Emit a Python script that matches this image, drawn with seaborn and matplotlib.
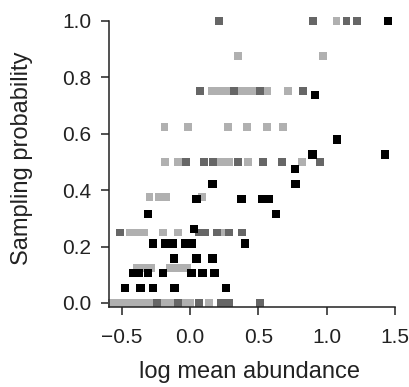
import pandas as pd
import seaborn as sns
import matplotlib
import matplotlib.pyplot as plt

matplotlib.use("Agg")

# values
black_x = [-0.477, -0.363, -0.269, -0.114, 0.263,
           -0.418, -0.374, -0.306, -0.196, 0.010, 0.092, 0.179,
           -0.116, 0.048, 0.164,
           -0.269, -0.184, -0.123, -0.037, 0.010, 0.402,
           0.031,
           -0.310, 0.629,
           0.048, 0.378, 0.526, 0.578,
           0.165, 0.773,
           0.768,
           0.898, 1.429,
           1.078,
           0.914,
           1.452]
black_y = [0.053, 0.053, 0.053, 0.053, 0.053,
           0.105, 0.105, 0.105, 0.105, 0.105, 0.105, 0.105,
           0.158, 0.158, 0.158,
           0.211, 0.211, 0.211, 0.211, 0.211, 0.211,
           0.263,
           0.316, 0.316,
           0.368, 0.368, 0.368, 0.368,
           0.421, 0.421,
           0.474,
           0.526, 0.526,
           0.579,
           0.737,
           1.0]

dark_x = [0.212, 0.898, 1.146, 1.220,
          0.072, 0.321, 0.512, 0.827,
          -0.030, 0.104, 0.170, 0.351, 0.536, 0.671, 0.951,
          -0.510, 0.065, 0.113, 0.195, 0.285, 0.378,
          -0.242, -0.089, 0.065, 0.226, 0.285, 0.512]
dark_y = [1.0, 1.0, 1.0, 1.0,
          0.75, 0.75, 0.75, 0.75,
          0.5, 0.5, 0.5, 0.5, 0.5, 0.5, 0.5,
          0.25, 0.25, 0.25, 0.25, 0.25, 0.25,
          0.0, 0.0, 0.0, 0.0, 0.0, 0.0]

light_x = [1.073,
           0.353, 0.971,
           0.160, 0.212, 0.263, 0.373, 0.424, 0.460, 0.563, 0.717,
           -0.187, -0.013, 0.277, 0.417, 0.561, 0.684,
           -0.184, -0.091, 0.226, 0.285, 0.426, 0.817,
           -0.297, -0.231, -0.173, 0.087,
           -0.440, -0.389, -0.337, -0.196, -0.086, 0.241,
           -0.392, -0.341, -0.283, -0.147, -0.100, -0.052, -0.023,
           -0.572, -0.528, -0.484, -0.440, -0.396, -0.352, -0.308, -0.264,
           -0.213, -0.169, -0.125, -0.045, -0.001, 0.138]
light_y = [1.0,
           0.875, 0.875,
           0.75, 0.75, 0.75, 0.75, 0.75, 0.75, 0.75, 0.75,
           0.625, 0.625, 0.625, 0.625, 0.625, 0.625,
           0.5, 0.5, 0.5, 0.5, 0.5, 0.5,
           0.375, 0.375, 0.375, 0.375,
           0.25, 0.25, 0.25, 0.25, 0.25, 0.25,
           0.125, 0.125, 0.125, 0.125, 0.125, 0.125, 0.125,
           0.0, 0.0, 0.0, 0.0, 0.0, 0.0, 0.0, 0.0,
           0.0, 0.0, 0.0, 0.0, 0.0, 0.0]

x_ticks = [-0.5, 0.0, 0.5, 1.0, 1.5]
y_ticks = [0.0, 0.2, 0.4, 0.6, 0.8, 1.0]

sns.set_style("ticks")
plt.rcParams['font.family'] = ['Liberation Sans', 'DejaVu Sans']

fig = plt.figure(figsize=(4.1, 3.87), dpi=100)
ax = fig.add_axes([0.267, 0.207, 0.696, 0.739])

groups = [
    (light_x, light_y, "#b0b0b0", 32),
    (dark_x, dark_y, "#666666", 32),
    (black_x, black_y, "#000000", 36),
]
for xs, ys, col, sz in groups:
    df = pd.DataFrame({"x": xs, "y": ys})
    sns.scatterplot(data=df, x="x", y="y", ax=ax, marker="s", color=col,
                    s=sz, linewidth=0, edgecolor="none", clip_on=False)

ax.set_xlim(-0.59, 1.5)
ax.set_ylim(-0.014, 1.0)
ax.set_xticks(x_ticks)
ax.set_xticklabels(["\u22120.5", "0.0", "0.5", "1.0", "1.5"])
ax.set_yticks(y_ticks)
ax.set_yticklabels([f"{v:.1f}" for v in y_ticks])

for side in ["top", "right"]:
    ax.spines[side].set_visible(False)
for side in ["left", "bottom"]:
    ax.spines[side].set_linewidth(1.1)
    ax.spines[side].set_color("#222222")

ax.tick_params(axis="both", direction="out", length=6, width=1.1,
               color="#222222", labelsize=15, labelcolor="#222222")
ax.tick_params(axis="x", pad=9)
ax.tick_params(axis="y", pad=7)

ax.set_xlabel("log mean abundance", fontsize=17, color="#222222", va="center")
ax.set_ylabel("Sampling probability", fontsize=17, color="#222222", va="center")
ax.xaxis.set_label_coords(0.492, -0.229)
ax.yaxis.set_label_coords(-0.305, 0.52)

fig.savefig("out.png", dpi=100)
